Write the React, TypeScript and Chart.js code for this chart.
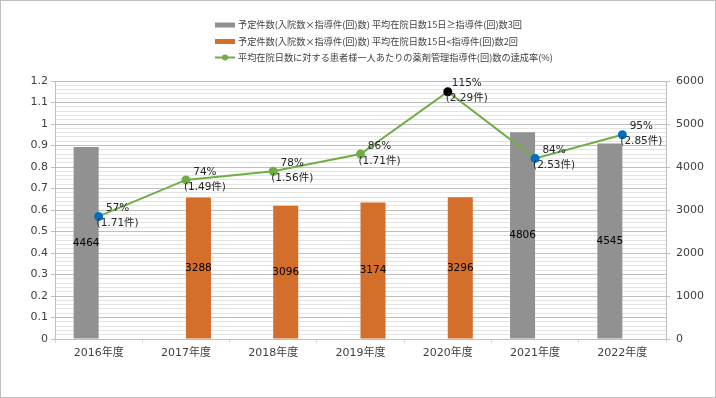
import React, { useEffect, useRef } from "react";
import { Chart, registerables } from "chart.js";

Chart.register(...registerables);

const categories = ["2016年度", "2017年度", "2018年度", "2019年度", "2020年度", "2021年度", "2022年度"];
const grayBars = [4464, null, null, null, null, 4806, 4545];
const orangeBars = [null, 3288, 3096, 3174, 3296, null, null];
const rates = [0.57, 0.74, 0.78, 0.86, 1.15, 0.84, 0.95];
const perPatient = [1.71, 1.49, 1.56, 1.71, 2.29, 2.53, 2.85];
const legendLabels = [
  "予定件数(入院数×指導件(回)数) 平均在院日数15日≥指導件(回)数3回",
  "予定件数(入院数×指導件(回)数) 平均在院日数15日<指導件(回)数2回",
  "平均在院日数に対する患者様一人あたりの薬剤管理指導件(回)数の達成率(%)",
];

const GRAY = "#919191";
const ORANGE = "#D36E2B";
const GREEN = "#70AD47";
const BLUE = "#0070C0";
const TEXT = "#404040";
const FONT = "'DejaVu Sans', 'Noto Sans CJK JP', sans-serif";
const pointColors = [BLUE, GREEN, GREEN, GREEN, "#000000", BLUE, BLUE];

const isMajor = (v: number) => Math.abs(v * 10 - Math.round(v * 10)) < 1e-6;

const decorPlugin = {
  id: "decor",
  beforeDraw(chart: any) {
    const ctx = chart.ctx;
    ctx.save();
    ctx.fillStyle = "#ffffff";
    ctx.fillRect(0, 0, chart.width, chart.height);
    ctx.restore();
  },
  afterDraw(chart: any) {
    const ctx = chart.ctx;
    ctx.save();
    ctx.strokeStyle = "#BFBFBF";
    ctx.lineWidth = 1;
    ctx.strokeRect(0.5, 0.5, chart.width - 1, chart.height - 1);
    const x0 = 215;
    const rows = [25, 41.5, 57.5];
    ctx.fillStyle = GRAY;
    ctx.fillRect(x0, rows[0] - 2.5, 20, 5);
    ctx.fillStyle = ORANGE;
    ctx.fillRect(x0, rows[1] - 2.5, 20, 5);
    ctx.strokeStyle = GREEN;
    ctx.lineWidth = 2;
    ctx.beginPath();
    ctx.moveTo(x0, rows[2]);
    ctx.lineTo(x0 + 20, rows[2]);
    ctx.stroke();
    ctx.fillStyle = GREEN;
    ctx.beginPath();
    ctx.arc(x0 + 10, rows[2], 3, 0, Math.PI * 2);
    ctx.fill();
    ctx.fillStyle = TEXT;
    ctx.font = "9.2px 'Noto Sans CJK JP', sans-serif";
    ctx.textBaseline = "middle";
    ctx.textAlign = "left";
    legendLabels.forEach((t, i) => ctx.fillText(t, 238, rows[i]));
    ctx.restore();
  },
  afterDatasetsDraw(chart: any) {
    const ctx = chart.ctx;
    ctx.save();
    ctx.font = "10.5px " + FONT;
    ctx.fillStyle = "#000000";
    ctx.textAlign = "center";
    ctx.textBaseline = "middle";
    [0, 1].forEach((di) => {
      const meta = chart.getDatasetMeta(di);
      const data = chart.data.datasets[di].data;
      meta.data.forEach((bar: any, i: number) => {
        if (data[i] == null) return;
        ctx.fillText(String(data[i]), bar.x, (bar.y + bar.base) / 2);
      });
    });
    const lm = chart.getDatasetMeta(2);
    ctx.fillStyle = "#262626";
    lm.data.forEach((pt: any, i: number) => {
      const cx = pt.x + 19;
      ctx.fillText(Math.round(rates[i] * 100) + "%", cx, pt.y - 8);
      ctx.fillText("(" + perPatient[i].toFixed(2) + "件)", cx, pt.y + 7);
    });
    ctx.restore();
  },
};

export default function App() {
  const ref = useRef<HTMLCanvasElement | null>(null);
  useEffect(() => {
    document.body.style.margin = "0";
    const chart = new Chart(ref.current as HTMLCanvasElement, {
      type: "bar",
      data: {
        labels: categories,
        datasets: [
          {
            type: "bar",
            label: legendLabels[0],
            data: grayBars,
            backgroundColor: GRAY,
            yAxisID: "y1",
            order: 1,
            barPercentage: 1,
            categoryPercentage: 0.573,
          },
          {
            type: "bar",
            label: legendLabels[1],
            data: orangeBars,
            backgroundColor: ORANGE,
            yAxisID: "y1",
            order: 1,
            barPercentage: 1,
            categoryPercentage: 0.573,
          },
          {
            type: "line",
            label: legendLabels[2],
            data: rates,
            borderColor: GREEN,
            borderWidth: 2,
            pointBackgroundColor: pointColors,
            pointBorderColor: pointColors,
            pointRadius: 3.5,
            yAxisID: "y",
            order: 0,
          },
        ] as any,
      },
      plugins: [decorPlugin],
      options: {
        animation: false,
        responsive: false,
        devicePixelRatio: 1,
        layout: { padding: { top: 81, left: 0, right: 0, bottom: 0 } },
        plugins: { legend: { display: false }, tooltip: { enabled: false } },
        scales: {
          x: {
            offset: true,
            grid: { drawOnChartArea: false, tickLength: 4, color: "#D9D9D9", offset: true },
            border: { color: "#BFBFBF" },
            ticks: { font: { size: 11, family: FONT }, color: TEXT, padding: 4, maxRotation: 0 },
            afterFit: (s: any) => { s.height = 59; },
          },
          y: {
            position: "left",
            min: 0,
            max: 1.2,
            ticks: {
              stepSize: 0.02,
              autoSkip: false,
              font: { size: 11, family: FONT },
              color: TEXT,
              padding: 3,
              callback: (v: any) => (isMajor(Number(v)) ? String(Math.round(Number(v) * 10) / 10) : ""),
            },
            grid: {
              color: (c: any) => (isMajor(c.tick.value) ? "#BFBFBF" : "#E4E4E4"),
              tickColor: (c: any) => (isMajor(c.tick.value) ? "#BFBFBF" : "rgba(0,0,0,0)"),
              tickLength: 4,
            },
            border: { color: "#BFBFBF" },
            afterFit: (s: any) => { s.width = 55; },
          },
          y1: {
            position: "right",
            min: 0,
            max: 6000,
            ticks: {
              stepSize: 1000,
              font: { size: 11, family: FONT },
              color: TEXT,
              padding: 6,
              callback: (v: any) => String(v),
            },
            grid: { drawOnChartArea: false, tickLength: 4, color: "#BFBFBF" },
            border: { color: "#BFBFBF" },
            afterFit: (s: any) => { s.width = 50; },
          },
        },
      } as any,
    });
    return () => chart.destroy();
  }, []);
  return (
    <div style={{ width: 716, height: 398 }}>
      <canvas ref={ref} width={716} height={398} />
    </div>
  );
}
